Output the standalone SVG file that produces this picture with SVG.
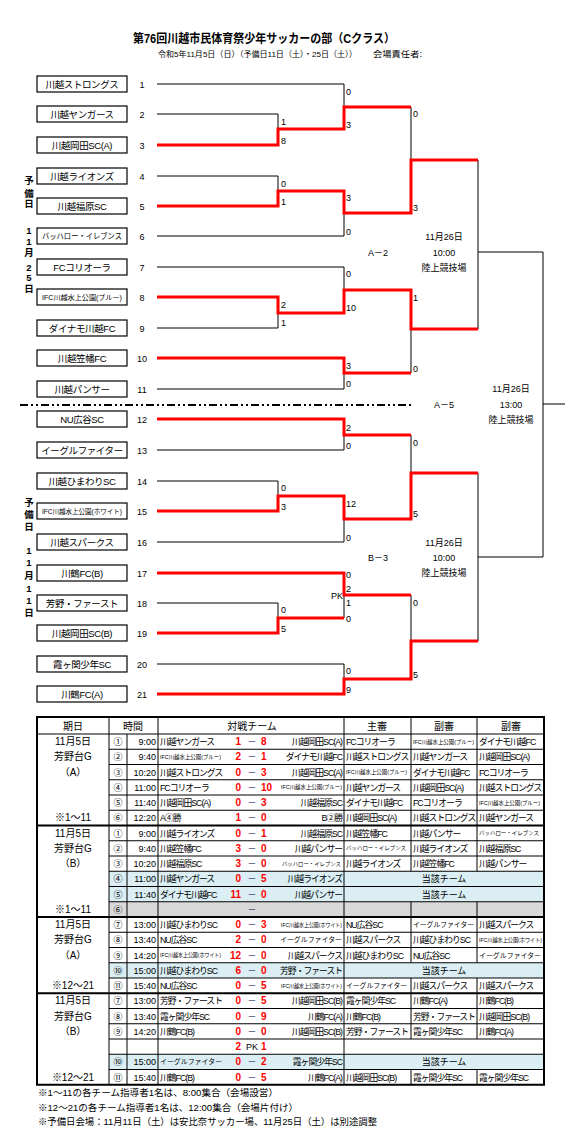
<svg xmlns="http://www.w3.org/2000/svg" width="578" height="1144" viewBox="0 0 578 1144">
<style>
text{font-family:"Liberation Sans","Noto Sans CJK JP",sans-serif;fill:#000}
.box{fill:#fff;stroke:#000;stroke-width:1.2}
.tn{font-size:9.5px;text-anchor:middle;letter-spacing:-0.4px}
.no{font-size:9px;text-anchor:middle}
.ln{fill:none;stroke:#000;stroke-width:1}
.win{fill:none;stroke:#f00;stroke-width:3;stroke-linejoin:miter}
.sc{font-size:9px}
.lb{font-size:9px;text-anchor:middle}
.vl{font-size:9.5px;text-anchor:middle;font-weight:bold}
.g{fill:none;stroke:#000;stroke-width:1}
.gb{fill:none;stroke:#000;stroke-width:2}
.t{font-size:8.8px;letter-spacing:-1px}
.tm{font-size:9px}
.h{font-size:10px;text-anchor:middle}
.xs{font-size:5.5px}
.sm{font-size:6.8px}
.bh{font-size:5.6px}
.s{font-size:10px;font-weight:bold;fill:#f00}
.d{font-size:9px;fill:#1f2f5f;text-anchor:middle}
.e{text-anchor:end}
.m{text-anchor:middle}
.nt{font-size:9.5px}
</style>

<!-- Title -->
<text x="264" y="43" font-size="12" font-weight="bold" text-anchor="middle" textLength="262" lengthAdjust="spacingAndGlyphs">第76回川越市民体育祭少年サッカーの部（Cクラス）</text>
<text x="158" y="56.5" font-size="8" textLength="199" lengthAdjust="spacingAndGlyphs">令和5年11月5日（日）（予備日11日（土）・25日（土））</text>
<text x="373" y="56.5" font-size="8.5" textLength="49" lengthAdjust="spacingAndGlyphs">会場責任者:</text>

<!-- side labels -->
<g id="side-labels">
<text class="vl" x="29" y="183.5">予</text>
<text class="vl" x="29" y="196.5">備</text>
<text class="vl" x="29" y="207">日</text>
<text class="vl" x="29" y="233.5">1</text>
<text class="vl" x="29" y="244.5">1</text>
<text class="vl" x="29" y="255.5">月</text>
<text class="vl" x="29" y="270.5">2</text>
<text class="vl" x="29" y="281">5</text>
<text class="vl" x="29" y="292">日</text>
<text class="vl" x="29" y="505.5">予</text>
<text class="vl" x="29" y="517.5">備</text>
<text class="vl" x="29" y="529.5">日</text>
<text class="vl" x="29" y="553.5">1</text>
<text class="vl" x="29" y="565.5">1</text>
<text class="vl" x="29" y="578.5">月</text>
<text class="vl" x="29" y="591.5">1</text>
<text class="vl" x="29" y="603.5">1</text>
<text class="vl" x="29" y="615.5">日</text>
</g>

<!-- connectors -->
<g id="connectors">
<path class="ln" d="M157,84H344 M157,114H278 M157,145H278 M157,176H278 M157,206H278 M157,236H344 M157,267H344 M157,297H278 M157,328H278 M157,358H344 M157,389H344 M157,419H344 M157,450H344 M157,481H278 M157,511H278 M157,542H344 M157,573H344 M157,603H278 M157,633H278 M157,664H344 M157,694H344
M278,114V145 M278,176V206 M278,297V328 M278,481V511 M278,603V633
M344,84V129 M344,191V236 M344,267V313 M344,358V389 M344,419V450 M344,496V542 M344,573V618 M344,664V694
M411,107V213 M411,290V373 M411,435V519 M411,595V679
M478,160V329 M478,473V641 M543,252V557
M278,129H344 M278,191H344 M278,313H344 M278,496H344 M278,618H344
M344,107H411 M344,213H411 M344,290H411 M344,373H411 M344,435H411 M344,519H411 M344,595H411 M344,679H411
M411,160H478 M411,329H478 M411,473H478 M411,641H478
M478,252H543 M478,557H543 M543,404H565"/>
<path class="win" d="M157,145H278V129H344V107H411"/>
<path class="win" d="M157,206H278V191H344V213H411V160H478"/>
<path class="win" d="M157,297H278V313H344V290H411V329H478"/>
<path class="win" d="M157,358H344V373H411"/>
<path class="win" d="M157,419H344V435H411"/>
<path class="win" d="M157,511H278V496H344V519H411V473H478"/>
<path class="win" d="M157,573H344V595H411"/>
<path class="win" d="M157,633H278V618H344"/>
<path class="win" d="M157,694H344V679H411V641H478"/>
<line x1="20" y1="405" x2="411" y2="405" stroke="#000" stroke-width="2" stroke-dasharray="8 3 2 3 2 3"/>
<!-- scores -->
<text class="sc" x="281" y="124.5">1</text>
<text class="sc" x="281" y="143.5">8</text>
<text class="sc" x="281" y="186.5">0</text>
<text class="sc" x="281" y="204.5">1</text>
<text class="sc" x="281" y="307.5">2</text>
<text class="sc" x="281" y="325.5">1</text>
<text class="sc" x="281" y="490.5">0</text>
<text class="sc" x="281" y="509.5">3</text>
<text class="sc" x="281" y="612.5">0</text>
<text class="sc" x="281" y="631.5">5</text>
<text class="sc" x="346" y="94.5">0</text>
<text class="sc" x="346" y="127.5">3</text>
<text class="sc" x="346" y="200.5">3</text>
<text class="sc" x="346" y="234.5">0</text>
<text class="sc" x="346" y="276.5">0</text>
<text class="sc" x="346" y="310.5">10</text>
<text class="sc" x="346" y="368.5">3</text>
<text class="sc" x="346" y="386.5">0</text>
<text class="sc" x="346" y="430.5">2</text>
<text class="sc" x="346" y="448.5">0</text>
<text class="sc" x="346" y="506.5">12</text>
<text class="sc" x="346" y="540.5">0</text>
<text class="sc" x="346" y="577.5">0</text>
<text class="sc" x="346" y="591.5">2</text>
<text class="sc" x="346" y="605.5">1</text>
<text class="sc" x="346" y="621.5">0</text>
<text class="sc" x="346" y="673.5">0</text>
<text class="sc" x="346" y="692.5">9</text>
<text class="sc" x="343" y="598.5" text-anchor="end">PK</text>
<text class="sc" x="413" y="116.5">0</text>
<text class="sc" x="413" y="210.5">3</text>
<text class="sc" x="413" y="300.5">1</text>
<text class="sc" x="413" y="371.5">0</text>
<text class="sc" x="413" y="445.5">0</text>
<text class="sc" x="413" y="516.5">5</text>
<text class="sc" x="413" y="605.5">0</text>
<text class="sc" x="413" y="677.5">5</text>
<!-- match labels -->
<text class="lb" x="378" y="255.5">A－2</text>
<text class="lb" x="444" y="239.5">11月26日</text>
<text class="lb" x="444" y="255.5">10:00</text>
<text class="lb" x="444" y="270.5">陸上競技場</text>
<text class="lb" x="378" y="560.5">B－3</text>
<text class="lb" x="444" y="545.5">11月26日</text>
<text class="lb" x="444" y="560.5">10:00</text>
<text class="lb" x="444" y="575.5">陸上競技場</text>
<text class="lb" x="444" y="407.5">A－5</text>
<text class="lb" x="511" y="391.5">11月26日</text>
<text class="lb" x="511" y="407.5">13:00</text>
<text class="lb" x="511" y="422.5">陸上競技場</text>
</g>

<!-- team nodes -->
<g id="team1"><rect class="box" x="37" y="76" width="90" height="16"/><text class="tn" x="82" y="87.5">川越ストロングス</text><text class="no" x="142" y="87.5">1</text></g>
<g id="team2"><rect class="box" x="37" y="106" width="90" height="16"/><text class="tn" x="82" y="117.5">川越ヤンガース</text><text class="no" x="142" y="117.5">2</text></g>
<g id="team3"><rect class="box" x="37" y="137" width="90" height="16"/><text class="tn" x="82" y="148.5">川越岡田SC(A)</text><text class="no" x="142" y="148.5">3</text></g>
<g id="team4"><rect class="box" x="37" y="168" width="90" height="16"/><text class="tn" x="82" y="179.5">川越ライオンズ</text><text class="no" x="142" y="179.5">4</text></g>
<g id="team5"><rect class="box" x="37" y="198" width="90" height="16"/><text class="tn" x="82" y="209.5">川越福原SC</text><text class="no" x="142" y="209.5">5</text></g>
<g id="team6"><rect class="box" x="37" y="228" width="90" height="16"/><text x="82" y="239" font-size="8" text-anchor="middle" textLength="80" lengthAdjust="spacingAndGlyphs">バッハロー・イレブンス</text><text class="no" x="142" y="239.5">6</text></g>
<g id="team7"><rect class="box" x="37" y="259" width="90" height="16"/><text class="tn" x="82" y="270.5">FCコリオーラ</text><text class="no" x="142" y="270.5">7</text></g>
<g id="team8"><rect class="box" x="37" y="289" width="90" height="16"/><text x="82" y="299.5" font-size="6.5" text-anchor="middle" textLength="80" lengthAdjust="spacingAndGlyphs">IFC川越水上公園(ブルー)</text><text class="no" x="142" y="300.5">8</text></g>
<g id="team9"><rect class="box" x="37" y="320" width="90" height="16"/><text class="tn" x="82" y="331.5">ダイナモ川越FC</text><text class="no" x="142" y="331.5">9</text></g>
<g id="team10"><rect class="box" x="37" y="350" width="90" height="16"/><text class="tn" x="82" y="361.5">川越笠幡FC</text><text class="no" x="142" y="361.5">10</text></g>
<g id="team11"><rect class="box" x="37" y="381" width="90" height="16"/><text class="tn" x="82" y="392.5">川越パンサー</text><text class="no" x="142" y="392.5">11</text></g>
<g id="team12"><rect class="box" x="37" y="411" width="90" height="16"/><text class="tn" x="82" y="422.5">NU広谷SC</text><text class="no" x="142" y="422.5">12</text></g>
<g id="team13"><rect class="box" x="37" y="442" width="90" height="16"/><text class="tn" x="82" y="453.5">イーグルファイター</text><text class="no" x="142" y="453.5">13</text></g>
<g id="team14"><rect class="box" x="37" y="473" width="90" height="16"/><text class="tn" x="82" y="484.5">川越ひまわりSC</text><text class="no" x="142" y="484.5">14</text></g>
<g id="team15"><rect class="box" x="37" y="503" width="90" height="16"/><text x="82" y="513.5" font-size="6.5" text-anchor="middle" textLength="80" lengthAdjust="spacingAndGlyphs">IFC川越水上公園(ホワイト)</text><text class="no" x="142" y="514.5">15</text></g>
<g id="team16"><rect class="box" x="37" y="534" width="90" height="16"/><text class="tn" x="82" y="545.5">川越スパークス</text><text class="no" x="142" y="545.5">16</text></g>
<g id="team17"><rect class="box" x="37" y="565" width="90" height="16"/><text class="tn" x="82" y="576.5">川鶴FC(B)</text><text class="no" x="142" y="576.5">17</text></g>
<g id="team18"><rect class="box" x="37" y="595" width="90" height="16"/><text class="tn" x="82" y="606.5">芳野・ファースト</text><text class="no" x="142" y="606.5">18</text></g>
<g id="team19"><rect class="box" x="37" y="625" width="90" height="16"/><text class="tn" x="82" y="636.5">川越岡田SC(B)</text><text class="no" x="142" y="636.5">19</text></g>
<g id="team20"><rect class="box" x="37" y="656" width="90" height="16"/><text class="tn" x="82" y="667.5">霞ヶ関少年SC</text><text class="no" x="142" y="667.5">20</text></g>
<g id="team21"><rect class="box" x="37" y="686" width="90" height="16"/><text class="tn" x="82" y="697.5">川鶴FC(A)</text><text class="no" x="142" y="697.5">21</text></g>

<!-- table -->
<g id="table">
<rect x="109" y="871.25" width="435" height="30.5" fill="#DAEEF3"/>
<rect x="109" y="901.75" width="435" height="15.25" fill="#D9D9D9"/>
<rect x="109" y="962.75" width="435" height="15.25" fill="#DAEEF3"/>
<rect x="109" y="1054.25" width="435" height="15.25" fill="#DAEEF3"/>
<path class="g" d="M109,749.25H544 M109,764.5H544 M109,779.75H544 M109,795H544 M109,810.25H544
M109,840.75H544 M109,856H544 M109,871.25H544 M109,886.5H544 M109,901.75H544
M109,932.25H544 M109,947.5H544 M109,962.75H544 M109,978H544
M109,1008.5H544 M109,1023.75H544 M109,1039H544 M109,1054.25H544 M109,1069.5H544
M37,734H544
M109,717V1084.75 M127,734V1084.75 M158,717V1084.75 M344,717V1084.75
M411,717V871.25 M411,901.75V962.75 M411,978V1039 M411,1069.5V1084.75
M477,717V871.25 M477,901.75V962.75 M477,978V1039 M477,1069.5V1084.75"/>
<path class="gb" d="M37,825.5H544 M37,917H544 M37,993.25H544"/>
<rect class="gb" x="37" y="717" width="507" height="367.75"/>

<!-- header -->
<text class="h" x="73" y="729.5">期日</text>
<text class="h" x="133" y="729.5">時間</text>
<text class="h" x="252" y="729.5">対戦チーム</text>
<text class="h" x="377" y="729.5">主審</text>
<text class="h" x="444" y="729.5">副審</text>
<text class="h" x="511" y="729.5">副審</text>

<!-- period column -->
<text class="h" x="73" y="745">11月5日</text>
<text class="h" x="73" y="760.25">芳野台G</text>
<text class="h" x="73" y="775.5">（A）</text>
<text class="h" x="73" y="821.25">※1～11</text>
<text class="h" x="73" y="836.5">11月5日</text>
<text class="h" x="73" y="851.75">芳野台G</text>
<text class="h" x="73" y="867">（B）</text>
<text class="h" x="73" y="912.75">※1～11</text>
<text class="h" x="73" y="928">11月5日</text>
<text class="h" x="73" y="943.25">芳野台G</text>
<text class="h" x="73" y="958.5">（A）</text>
<text class="h" x="73" y="989">※12～21</text>
<text class="h" x="73" y="1004.25">11月5日</text>
<text class="h" x="73" y="1019.5">芳野台G</text>
<text class="h" x="73" y="1034.75">（B）</text>
<text class="h" x="73" y="1080.5">※12～21</text>

<!-- G1 -->
<text class="tm m" x="118" y="745">①</text><text class="tm e" x="156" y="745">9:00</text>
<text class="t" x="160" y="745">川越ヤンガース</text><text class="s e" x="241" y="745">1</text><text class="d" x="252" y="745">－</text><text class="s" x="261" y="745">8</text><text class="t e" x="342" y="745">川越岡田SC(A)</text>
<text class="t" x="346" y="745">FCコリオーラ</text><text class="xs" x="413" y="743.5" textLength="61" lengthAdjust="spacingAndGlyphs">IFC川越水上公園(ブルー)</text><text class="t" x="479" y="745">ダイナモ川越FC</text>

<text class="tm m" x="118" y="760.25">②</text><text class="tm e" x="156" y="760.25">9:40</text>
<text class="xs" x="160" y="758.75" textLength="61" lengthAdjust="spacingAndGlyphs">IFC川越水上公園(ブルー)</text><text class="s e" x="241" y="760.25">2</text><text class="d" x="252" y="760.25">－</text><text class="s" x="261" y="760.25">1</text><text class="t e" x="342" y="760.25">ダイナモ川越FC</text>
<text class="t" x="346" y="760.25">川越ストロングス</text><text class="t" x="413" y="760.25">川越ヤンガース</text><text class="t" x="479" y="760.25">川越岡田SC(A)</text>

<text class="tm m" x="118" y="775.5">③</text><text class="tm e" x="156" y="775.5">10:20</text>
<text class="t" x="160" y="775.5">川越ストロングス</text><text class="s e" x="241" y="775.5">0</text><text class="d" x="252" y="775.5">－</text><text class="s" x="261" y="775.5">3</text><text class="t e" x="342" y="775.5">川越岡田SC(A)</text>
<text class="xs" x="346" y="774" textLength="61" lengthAdjust="spacingAndGlyphs">IFC川越水上公園(ブルー)</text><text class="t" x="413" y="775.5">ダイナモ川越FC</text><text class="t" x="479" y="775.5">FCコリオーラ</text>

<text class="tm m" x="118" y="790.75">④</text><text class="tm e" x="156" y="790.75">11:00</text>
<text class="t" x="160" y="790.75">FCコリオーラ</text><text class="s e" x="241" y="790.75">0</text><text class="d" x="252" y="790.75">－</text><text class="s" x="261" y="790.75">10</text><text class="xs e" x="342" y="789.25" textLength="61" lengthAdjust="spacingAndGlyphs">IFC川越水上公園(ブルー)</text>
<text class="t" x="346" y="790.75">川越ヤンガース</text><text class="t" x="413" y="790.75">川越岡田SC(A)</text><text class="t" x="479" y="790.75">川越ストロングス</text>

<text class="tm m" x="118" y="806">⑤</text><text class="tm e" x="156" y="806">11:40</text>
<text class="t" x="160" y="806">川越岡田SC(A)</text><text class="s e" x="241" y="806">0</text><text class="d" x="252" y="806">－</text><text class="s" x="261" y="806">3</text><text class="t e" x="342" y="806">川越福原SC</text>
<text class="t" x="346" y="806">ダイナモ川越FC</text><text class="t" x="413" y="806">FCコリオーラ</text><text class="xs" x="479" y="804.5" textLength="61" lengthAdjust="spacingAndGlyphs">IFC川越水上公園(ブルー)</text>

<text class="tm m" x="118" y="821.25">⑥</text><text class="tm e" x="156" y="821.25">12:20</text>
<text class="t" x="160" y="821.25">A④勝</text><text class="s e" x="241" y="821.25">1</text><text class="d" x="252" y="821.25">－</text><text class="s" x="261" y="821.25">0</text><text class="t e" x="342" y="821.25">B②勝</text>
<text class="t" x="346" y="821.25">川越岡田SC(A)</text><text class="t" x="413" y="821.25">川越ストロングス</text><text class="t" x="479" y="821.25">川越ヤンガース</text>

<!-- G2 -->
<text class="tm m" x="118" y="836.5">①</text><text class="tm e" x="156" y="836.5">9:00</text>
<text class="t" x="160" y="836.5">川越ライオンズ</text><text class="s e" x="241" y="836.5">0</text><text class="d" x="252" y="836.5">－</text><text class="s" x="261" y="836.5">1</text><text class="t e" x="342" y="836.5">川越福原SC</text>
<text class="t" x="346" y="836.5">川越笠幡FC</text><text class="t" x="413" y="836.5">川越パンサー</text><text class="bh" x="479" y="835" textLength="60" lengthAdjust="spacingAndGlyphs">バッハロー・イレブンス</text>

<text class="tm m" x="118" y="851.75">②</text><text class="tm e" x="156" y="851.75">9:40</text>
<text class="t" x="160" y="851.75">川越笠幡FC</text><text class="s e" x="241" y="851.75">3</text><text class="d" x="252" y="851.75">－</text><text class="s" x="261" y="851.75">0</text><text class="t e" x="342" y="851.75">川越パンサー</text>
<text class="bh" x="346" y="850.25" textLength="60" lengthAdjust="spacingAndGlyphs">バッハロー・イレブンス</text><text class="t" x="413" y="851.75">川越ライオンズ</text><text class="t" x="479" y="851.75">川越福原SC</text>

<text class="tm m" x="118" y="867">③</text><text class="tm e" x="156" y="867">10:20</text>
<text class="t" x="160" y="867">川越福原SC</text><text class="s e" x="241" y="867">3</text><text class="d" x="252" y="867">－</text><text class="s" x="261" y="867">0</text><text class="bh e" x="341" y="865.5" textLength="59" lengthAdjust="spacingAndGlyphs">バッハロー・イレブンス</text>
<text class="t" x="346" y="867">川越ライオンズ</text><text class="t" x="413" y="867">川越笠幡FC</text><text class="t" x="479" y="867">川越パンサー</text>

<text class="tm m" x="118" y="882.25">④</text><text class="tm e" x="156" y="882.25">11:00</text>
<text class="t" x="160" y="882.25">川越ヤンガース</text><text class="s e" x="241" y="882.25">0</text><text class="d" x="252" y="882.25">－</text><text class="s" x="261" y="882.25">5</text><text class="t e" x="342" y="882.25">川越ライオンズ</text>
<text class="tm m" x="444" y="882.25">当該チーム</text>

<text class="tm m" x="118" y="897.5">⑤</text><text class="tm e" x="156" y="897.5">11:40</text>
<text class="t" x="160" y="897.5">ダイナモ川越FC</text><text class="s e" x="241" y="897.5">11</text><text class="d" x="252" y="897.5">－</text><text class="s" x="261" y="897.5">0</text><text class="t e" x="342" y="897.5">川越パンサー</text>
<text class="tm m" x="444" y="897.5">当該チーム</text>

<text class="tm m" x="118" y="912.75">⑥</text><text class="d" x="252" y="912.75">－</text>

<!-- G3 -->
<text class="tm m" x="118" y="928">⑦</text><text class="tm e" x="156" y="928">13:00</text>
<text class="t" x="160" y="928">川越ひまわりSC</text><text class="s e" x="241" y="928">0</text><text class="d" x="252" y="928">－</text><text class="s" x="261" y="928">3</text><text class="xs e" x="342" y="926.5" textLength="61" lengthAdjust="spacingAndGlyphs">IFC川越水上公園(ホワイト)</text>
<text class="t" x="346" y="928">NU広谷SC</text><text class="sm" x="413" y="927" textLength="61" lengthAdjust="spacingAndGlyphs">イーグルファイター</text><text class="t" x="479" y="928">川越スパークス</text>

<text class="tm m" x="118" y="943.25">⑧</text><text class="tm e" x="156" y="943.25">13:40</text>
<text class="t" x="160" y="943.25">NU広谷SC</text><text class="s e" x="241" y="943.25">2</text><text class="d" x="252" y="943.25">－</text><text class="s" x="261" y="943.25">0</text><text class="sm e" x="342" y="942.25" textLength="62" lengthAdjust="spacingAndGlyphs">イーグルファイター</text>
<text class="t" x="346" y="943.25">川越スパークス</text><text class="t" x="413" y="943.25">川越ひまわりSC</text><text class="xs" x="479" y="941.75" textLength="63" lengthAdjust="spacingAndGlyphs">IFC川越水上公園(ホワイト)</text>

<text class="tm m" x="118" y="958.5">⑨</text><text class="tm e" x="156" y="958.5">14:20</text>
<text class="xs" x="160" y="957" textLength="61" lengthAdjust="spacingAndGlyphs">IFC川越水上公園(ホワイト)</text><text class="s e" x="241" y="958.5">12</text><text class="d" x="252" y="958.5">－</text><text class="s" x="261" y="958.5">0</text><text class="t e" x="342" y="958.5">川越スパークス</text>
<text class="t" x="346" y="958.5">川越ひまわりSC</text><text class="t" x="413" y="958.5">NU広谷SC</text><text class="sm" x="479" y="957.5" textLength="62" lengthAdjust="spacingAndGlyphs">イーグルファイター</text>

<text class="tm m" x="118" y="973.75">⑩</text><text class="tm e" x="156" y="973.75">15:00</text>
<text class="t" x="160" y="973.75">川越ひまわりSC</text><text class="s e" x="241" y="973.75">6</text><text class="d" x="252" y="973.75">－</text><text class="s" x="261" y="973.75">0</text><text class="t e" x="342" y="973.75">芳野・ファースト</text>
<text class="tm m" x="444" y="973.75">当該チーム</text>

<text class="tm m" x="118" y="989">⑪</text><text class="tm e" x="156" y="989">15:40</text>
<text class="t" x="160" y="989">NU広谷SC</text><text class="s e" x="241" y="989">0</text><text class="d" x="252" y="989">－</text><text class="s" x="261" y="989">5</text><text class="xs e" x="342" y="987.5" textLength="61" lengthAdjust="spacingAndGlyphs">IFC川越水上公園(ホワイト)</text>
<text class="sm" x="346" y="988" textLength="61" lengthAdjust="spacingAndGlyphs">イーグルファイター</text><text class="t" x="413" y="989">川越スパークス</text><text class="t" x="479" y="989">川越スパークス</text>

<!-- G4 -->
<text class="tm m" x="118" y="1004.25">⑦</text><text class="tm e" x="156" y="1004.25">13:00</text>
<text class="t" x="160" y="1004.25">芳野・ファースト</text><text class="s e" x="241" y="1004.25">0</text><text class="d" x="252" y="1004.25">－</text><text class="s" x="261" y="1004.25">5</text><text class="t e" x="342" y="1004.25">川越岡田SC(B)</text>
<text class="t" x="346" y="1004.25">霞ヶ関少年SC</text><text class="t" x="413" y="1004.25">川鶴FC(A)</text><text class="t" x="479" y="1004.25">川鶴FC(B)</text>

<text class="tm m" x="118" y="1019.5">⑧</text><text class="tm e" x="156" y="1019.5">13:40</text>
<text class="t" x="160" y="1019.5">霞ヶ関少年SC</text><text class="s e" x="241" y="1019.5">0</text><text class="d" x="252" y="1019.5">－</text><text class="s" x="261" y="1019.5">9</text><text class="t e" x="342" y="1019.5">川鶴FC(A)</text>
<text class="t" x="346" y="1019.5">川鶴FC(B)</text><text class="t" x="413" y="1019.5">芳野・ファースト</text><text class="t" x="479" y="1019.5">川越岡田SC(B)</text>

<text class="tm m" x="118" y="1034.75">⑨</text><text class="tm e" x="156" y="1034.75">14:20</text>
<text class="t" x="160" y="1034.75">川鶴FC(B)</text><text class="s e" x="241" y="1034.75">0</text><text class="d" x="252" y="1034.75">－</text><text class="s" x="261" y="1034.75">0</text><text class="t e" x="342" y="1034.75">川越岡田SC(B)</text>
<text class="t" x="346" y="1034.75">芳野・ファースト</text><text class="t" x="413" y="1034.75">霞ヶ関少年SC</text><text class="t" x="479" y="1034.75">川鶴FC(A)</text>

<text class="s e" x="241" y="1050">2</text><text class="tm m" x="252" y="1050">PK</text><text class="s" x="261" y="1050">1</text>

<text class="tm m" x="118" y="1065.25">⑩</text><text class="tm e" x="156" y="1065.25">15:00</text>
<text class="sm" x="160" y="1064.25" textLength="62" lengthAdjust="spacingAndGlyphs">イーグルファイター</text><text class="s e" x="241" y="1065.25">0</text><text class="d" x="252" y="1065.25">－</text><text class="s" x="261" y="1065.25">2</text><text class="t e" x="342" y="1065.25">霞ヶ関少年SC</text>
<text class="tm m" x="444" y="1065.25">当該チーム</text>

<text class="tm m" x="118" y="1080.5">⑪</text><text class="tm e" x="156" y="1080.5">15:40</text>
<text class="t" x="160" y="1080.5">川鶴FC(B)</text><text class="s e" x="241" y="1080.5">0</text><text class="d" x="252" y="1080.5">－</text><text class="s" x="261" y="1080.5">5</text><text class="t e" x="342" y="1080.5">川鶴FC(A)</text>
<text class="t" x="346" y="1080.5">川越岡田SC(B)</text><text class="t" x="413" y="1080.5">霞ヶ関少年SC</text><text class="t" x="479" y="1080.5">霞ヶ関少年SC</text>
</g>

<!-- notes -->
<text class="nt" x="38" y="1096" textLength="240" lengthAdjust="spacingAndGlyphs">※1～11の各チーム指導者1名は、8:00集合（会場設営）</text>
<text class="nt" x="38" y="1111" textLength="260" lengthAdjust="spacingAndGlyphs">※12～21の各チーム指導者1名は、12:00集合（会場片付け）</text>
<text class="nt" x="38" y="1125" textLength="339" lengthAdjust="spacingAndGlyphs">※予備日会場：11月11日（土）は安比奈サッカー場、11月25日（土）は別途調整</text>
</svg>
